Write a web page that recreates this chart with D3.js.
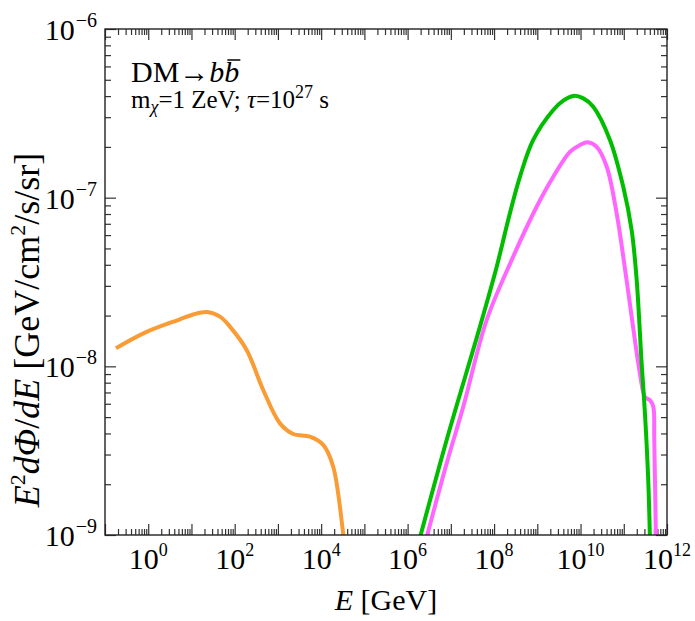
<!DOCTYPE html>
<html><head><meta charset="utf-8">
<script src="https://cdn.jsdelivr.net/npm/d3@7"></script>
<style>
body{margin:0;background:#fff}
svg{display:block}
text{font-family:"Liberation Serif","DejaVu Serif",serif;fill:#000}
</style>
</head><body>
<svg id="c" width="695" height="621"></svg>
<script>
// ---- data ----
const orangeE = [0.179, 0.918, 5.41, 11.0, 22.4, 45.6, 77.6, 189, 457, 1114, 2259, 5495, 11170, 19010, 32430, 35480];
const orangeF = [1.28e-8, 1.60e-8, 1.90e-8, 2.03e-8, 2.10e-8, 1.97e-8, 1.72e-8, 1.25e-8, 7.24e-9, 4.59e-9, 3.97e-9, 3.83e-9, 3.42e-9, 2.54e-9, 1.02e-9, 8.7e-10];

const greenE = [1.9e6, 8.0e6, 4.71e7, 1.15e8, 2.32e8, 3.96e8, 8.05e8, 2.34e9, 3.98e9, 6.78e9, 1.16e10, 1.97e10, 4.79e10, 9.73e10, 1.52e11, 1.99e11, 2.59e11, 3.09e11, 3.68e11, 4.05e11];
const greenF = [9.5e-10, 3.66e-9, 1.72e-8, 3.90e-8, 8.07e-8, 1.33e-7, 2.20e-7, 3.31e-7, 3.76e-7, 4.01e-7, 3.88e-7, 3.46e-7, 2.20e-7, 1.16e-7, 6.43e-8, 3.25e-8, 1.04e-8, 5.27e-9, 2.12e-9, 9.0e-10];

const magentaE = [2.7e6, 8.0e6, 1.94e7, 6.73e7, 2.77e8, 9.66e8, 2.34e9, 5.69e9, 9.68e9, 1.45e10, 2.36e10, 4.02e10, 6.84e10, 1.16e11, 1.81e11, 2.36e11, 3.08e11, 4.03e11, 4.81e11, 5.07e11, 5.56e11];
const magentaF = [9.5e-10, 2.66e-9, 5.77e-9, 1.88e-8, 4.47e-8, 8.83e-8, 1.33e-7, 1.87e-7, 2.05e-7, 2.13e-7, 2.00e-7, 1.53e-7, 8.07e-8, 3.25e-8, 1.43e-8, 9.1e-9, 6.6e-9, 6.3e-9, 5.77e-9, 3.66e-9, 9.0e-10];

const xTickLabelExps = [0, 2, 4, 6, 8, 10, 12];
const yTickLabelExps = [-9, -8, -7, -6];
const xDomain = [0.1, 1e12];
const yDomain = [1e-9, 1e-6];

// ---- layout ----
const L = 105, R = 667, T = 29, B = 535;
const svg = d3.select("#c");
const x = d3.scaleLog().domain(xDomain).range([L, R]);
const y = d3.scaleLog().domain(yDomain).range([B, T]);

function logTicks(domain) {
  const major = [], minor = [];
  const e0 = Math.floor(Math.log10(domain[0])), e1 = Math.ceil(Math.log10(domain[1]));
  for (let e = e0; e <= e1; e++) {
    for (let m = 1; m <= 9; m++) {
      const v = m * Math.pow(10, e);
      if (v < domain[0] * 0.999 || v > domain[1] * 1.001) continue;
      (m === 1 ? major : minor).push(v);
    }
  }
  return {major, minor};
}
const xt = logTicks(xDomain), yt = logTicks(yDomain);
const tickColor = "#333";
const MAJ = 11, MIN = 6;

function drawAxis(axisGen, tr, vals, len) {
  const g = svg.append("g").attr("transform", tr)
    .call(axisGen.tickValues(vals).tickSizeInner(-len).tickSizeOuter(0).tickFormat(""));
  g.select(".domain").remove();
  g.selectAll("line").attr("stroke", tickColor).attr("stroke-width", 1.2);
}
drawAxis(d3.axisBottom(x), `translate(0,${B})`, xt.major, MAJ);
drawAxis(d3.axisBottom(x), `translate(0,${B})`, xt.minor, MIN);
drawAxis(d3.axisTop(x), `translate(0,${T})`, xt.major, MAJ);
drawAxis(d3.axisTop(x), `translate(0,${T})`, xt.minor, MIN);
drawAxis(d3.axisLeft(y), `translate(${L},0)`, yt.major, MAJ);
drawAxis(d3.axisLeft(y), `translate(${L},0)`, yt.minor, MIN);
drawAxis(d3.axisRight(y), `translate(${R},0)`, yt.major, MAJ);
drawAxis(d3.axisRight(y), `translate(${R},0)`, yt.minor, MIN);

// ---- curves ----
svg.append("clipPath").attr("id", "clip").append("rect")
  .attr("x", L).attr("y", T).attr("width", R - L).attr("height", B - T);
const line = d3.line().x(d => x(d[0])).y(d => y(d[1])).curve(d3.curveCatmullRom.alpha(0.5));
const series = [
  {E: orangeE, F: orangeF, color: "#f99c35"},
  {E: magentaE, F: magentaF, color: "#ff66ff"},
  {E: greenE, F: greenF, color: "#00bd00"}
];
series.forEach(s => {
  svg.append("path").attr("clip-path", "url(#clip)")
    .attr("d", line(s.E.map((e, i) => [e, s.F[i]])))
    .attr("fill", "none").attr("stroke", s.color).attr("stroke-width", 4)
    .attr("stroke-linejoin", "round");
});

// frame
svg.append("rect").attr("x", L).attr("y", T).attr("width", R - L).attr("height", B - T)
  .attr("fill", "none").attr("stroke", "#222").attr("stroke-width", 1.4);

// ---- tick labels ----
xTickLabelExps.forEach(e => {
  const t = svg.append("text").attr("x", x(Math.pow(10, e))).attr("y", 569)
    .attr("text-anchor", "middle").style("font-size", "30px");
  t.append("tspan").text("10");
  t.append("tspan").attr("dy", -13).style("font-size", "18px").text(String(e));
});
yTickLabelExps.forEach(e => {
  const t = svg.append("text").attr("x", 97).attr("y", y(Math.pow(10, e)) + 11)
    .attr("text-anchor", "end").style("font-size", "30px");
  t.append("tspan").text("10");
  t.append("tspan").attr("dy", -13).attr("dx", 1).style("font-size", "20px").text("\u2212" + Math.abs(e));
});

// ---- axis titles ----
{
  const t = svg.append("text").attr("x", (L + R) / 2).attr("y", 610)
    .attr("text-anchor", "middle").style("font-size", "30px");
  t.append("tspan").style("font-style", "italic").text("E");
  t.append("tspan").text(" [GeV]");
}
{
  const t = svg.append("text").attr("transform", `translate(39,330) rotate(-90)`)
    .attr("text-anchor", "middle").style("font-size", "36px");
  t.append("tspan").style("font-style", "italic").text("E");
  t.append("tspan").attr("dy", -14).style("font-size", "22px").text("2");
  t.append("tspan").attr("dy", 14).style("font-style", "italic").text("d\u03A6");
  t.append("tspan").text("/");
  t.append("tspan").style("font-style", "italic").text("dE");
  t.append("tspan").text(" [GeV/cm");
  t.append("tspan").attr("dy", -14).style("font-size", "22px").text("2");
  t.append("tspan").attr("dy", 14).text("/s/sr]");
}

// ---- annotations ----
{
  const t = svg.append("text").attr("x", 131).attr("y", 82).style("font-size", "30px");
  t.append("tspan").text("DM\u2192");
  t.append("tspan").style("font-style", "italic").text("bb");
  const n = t.node();
  const ext = n.getExtentOfChar(n.getNumberOfChars() - 1);
  svg.append("line").attr("x1", ext.x + 3).attr("x2", ext.x + ext.width + 1)
    .attr("y1", 60).attr("y2", 60).attr("stroke", "#000").attr("stroke-width", 1.5);
}
{
  const t = svg.append("text").attr("x", 131).attr("y", 108).style("font-size", "25px");
  t.append("tspan").text("m");
  t.append("tspan").attr("dy", 5).style("font-size", "18px").style("font-style", "italic").text("\u03C7");
  t.append("tspan").attr("dy", -5).text("=1 ZeV; ");
  t.append("tspan").style("font-style", "italic").text("\u03C4");
  t.append("tspan").text("=10");
  t.append("tspan").attr("dy", -10).style("font-size", "18px").text("27");
  t.append("tspan").attr("dy", 10).text(" s");
}
</script>
</body></html>
